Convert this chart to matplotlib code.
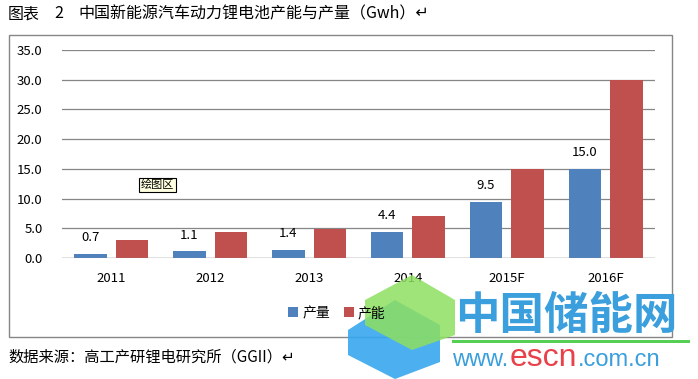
import numpy as np
import matplotlib.pyplot as plt
from matplotlib.patches import Rectangle, Polygon

plt.rcParams['font.family'] = ['Noto Sans CJK SC', 'DejaVu Sans']

years = ["2011", "2012", "2013", "2014", "2015F", "2016F"]
output = [0.7, 1.1, 1.4, 4.4, 9.5, 15.0]      # 产量
capacity = [3.0, 4.3, 4.9, 7.1, 15.0, 30.0]   # 产能
yticks = [0, 5, 10, 15, 20, 25, 30, 35]

blue = "#4F81BD"
red = "#C0504D"

fig = plt.figure(figsize=(6.98, 3.79), dpi=100)
W, H = 698, 379

def fx(px):
    return px / W

def fy(py):
    return 1 - py / H

# outer chart border
fig.patches.append(Rectangle((fx(9), fy(337)), fx(672 - 9), fy(35) - fy(337),
                             transform=fig.transFigure, fill=False,
                             edgecolor="#868686", linewidth=1.0))

ax = fig.add_axes([fx(62), fy(258), fx(655 - 62), fy(50) - fy(258)])
x = np.arange(len(years))
ax.bar(x - 0.21, output, width=0.33, color=blue, zorder=3, label="产量")
ax.bar(x + 0.21, capacity, width=0.33, color=red, zorder=3, label="产能")

for xi, v in zip(x, output):
    ax.annotate(f"{v:.1f}", (xi - 0.21, v), xytext=(0, 7), textcoords="offset points",
                ha="center", va="bottom", fontsize=9.5, color="black")

ax.set_xlim(-0.5, len(years) - 0.5)
ax.set_ylim(0, 35)
ax.set_yticks(yticks)
ax.set_yticklabels([f"{t:.1f}" for t in yticks], fontsize=9.5)
ax.set_xticks(x)
ax.set_xticklabels(years, fontsize=9.5)
ax.tick_params(axis="y", length=0, pad=14)
ax.tick_params(axis="x", length=0, pad=10)
ax.grid(axis="y", color="#868686", linewidth=0.9, zorder=0)
for s in ax.spines.values():
    s.set_visible(False)
ax.axhline(0, color="#868686", linewidth=0.9, zorder=4)

# legend
fig.legend(loc="center", bbox_to_anchor=(fx(337), fy(313)), ncol=2, frameon=False,
           fontsize=10, handlelength=0.7, handleheight=0.7, handletextpad=0.3,
           columnspacing=1.0)

# tooltip left over from the screenshot
fig.text(fx(141), fy(185), "绘图区", fontsize=8, va="center", ha="left",
         bbox=dict(boxstyle="square,pad=0.15", facecolor="#FFFFE1", edgecolor="black", linewidth=0.8))

# title and source
fig.text(fx(8), fy(14), "图表", fontsize=11.5, va="center", ha="left")
fig.text(fx(54), fy(14), "2", fontsize=11.5, va="center", ha="left")
fig.text(fx(78), fy(14), "中国新能源汽车动力锂电池产能与产量（Gwh）↵", fontsize=11.5,
         va="center", ha="left")
fig.text(fx(8), fy(357), "数据来源：高工产研锂电研究所（GGII）↵", fontsize=11,
         va="center", ha="left")

# watermark
fig.patches.append(Polygon([(fx(348), fy(330)), (fx(395), fy(300)), (fx(440), fy(325)),
                            (fx(440), fy(362)), (fx(395), fy(379)), (fx(348), fy(355))],
                           closed=True, transform=fig.transFigure, facecolor="#37A7EF",
                           edgecolor="none", alpha=0.9))
fig.patches.append(Polygon([(fx(365), fy(300)), (fx(412), fy(275)), (fx(455), fy(300)),
                            (fx(455), fy(335)), (fx(412), fy(350)), (fx(365), fy(325))],
                           closed=True, transform=fig.transFigure, facecolor="#8EE060",
                           edgecolor="none", alpha=0.85))
fig.text(fx(455), fy(316), "中国储能网", fontsize=32, fontweight="bold", color="#3A9FDC",
         va="center", ha="left")
fig.patches.append(Rectangle((fx(452), fy(343)), fx(690 - 452), fy(340) - fy(343),
                             transform=fig.transFigure, facecolor="#55D055", edgecolor="none"))

# url: place pieces one after another
url_parts = [("www.", 17, "#3A9FDC"), ("escn", 23, "#E8414A"), (".com.cn", 17, "#3A9FDC")]
renderer = fig.canvas.get_renderer()
xpos = 452
for txt, size, col in url_parts:
    t = fig.text(fx(xpos), fy(366), txt, fontsize=size, color=col, va="baseline", ha="left",
                 family="Liberation Sans")
    xpos += t.get_window_extent(renderer).width + 1

fig.savefig("out.png", dpi=100)
